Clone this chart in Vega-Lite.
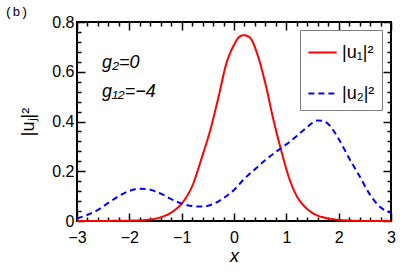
{
  "$schema": "https://vega.github.io/schema/vega-lite/v6.json",
  "autosize": "none",
  "width": 314,
  "height": 199,
  "padding": {"left": 77, "top": 22, "right": 16, "bottom": 52},
  "background": "white",
  "datasets": {
    "curves": [
      {"x": -3.0, "y": 0.000, "s": "|u₁|²"},
      {"x": -2.6, "y": 0.000, "s": "|u₁|²"},
      {"x": -2.2, "y": 0.001, "s": "|u₁|²"},
      {"x": -1.9, "y": 0.002, "s": "|u₁|²"},
      {"x": -1.6, "y": 0.006, "s": "|u₁|²"},
      {"x": -1.4, "y": 0.015, "s": "|u₁|²"},
      {"x": -1.2, "y": 0.034, "s": "|u₁|²"},
      {"x": -1.0, "y": 0.070, "s": "|u₁|²"},
      {"x": -0.8, "y": 0.140, "s": "|u₁|²"},
      {"x": -0.6, "y": 0.265, "s": "|u₁|²"},
      {"x": -0.45, "y": 0.368, "s": "|u₁|²"},
      {"x": -0.3, "y": 0.495, "s": "|u₁|²"},
      {"x": -0.15, "y": 0.630, "s": "|u₁|²"},
      {"x": 0.0, "y": 0.708, "s": "|u₁|²"},
      {"x": 0.1, "y": 0.740, "s": "|u₁|²"},
      {"x": 0.18, "y": 0.747, "s": "|u₁|²"},
      {"x": 0.3, "y": 0.738, "s": "|u₁|²"},
      {"x": 0.45, "y": 0.668, "s": "|u₁|²"},
      {"x": 0.6, "y": 0.552, "s": "|u₁|²"},
      {"x": 0.75, "y": 0.410, "s": "|u₁|²"},
      {"x": 0.9, "y": 0.285, "s": "|u₁|²"},
      {"x": 1.05, "y": 0.175, "s": "|u₁|²"},
      {"x": 1.2, "y": 0.100, "s": "|u₁|²"},
      {"x": 1.35, "y": 0.058, "s": "|u₁|²"},
      {"x": 1.5, "y": 0.032, "s": "|u₁|²"},
      {"x": 1.7, "y": 0.015, "s": "|u₁|²"},
      {"x": 1.9, "y": 0.007, "s": "|u₁|²"},
      {"x": 2.2, "y": 0.002, "s": "|u₁|²"},
      {"x": 2.6, "y": 0.000, "s": "|u₁|²"},
      {"x": 3.0, "y": 0.000, "s": "|u₁|²"},
      {"x": -3.0, "y": 0.010, "s": "|u₂|²"},
      {"x": -2.8, "y": 0.025, "s": "|u₂|²"},
      {"x": -2.6, "y": 0.045, "s": "|u₂|²"},
      {"x": -2.4, "y": 0.073, "s": "|u₂|²"},
      {"x": -2.2, "y": 0.100, "s": "|u₂|²"},
      {"x": -2.0, "y": 0.121, "s": "|u₂|²"},
      {"x": -1.8, "y": 0.130, "s": "|u₂|²"},
      {"x": -1.6, "y": 0.126, "s": "|u₂|²"},
      {"x": -1.4, "y": 0.110, "s": "|u₂|²"},
      {"x": -1.2, "y": 0.088, "s": "|u₂|²"},
      {"x": -1.0, "y": 0.070, "s": "|u₂|²"},
      {"x": -0.8, "y": 0.060, "s": "|u₂|²"},
      {"x": -0.6, "y": 0.058, "s": "|u₂|²"},
      {"x": -0.4, "y": 0.068, "s": "|u₂|²"},
      {"x": -0.2, "y": 0.092, "s": "|u₂|²"},
      {"x": 0.0, "y": 0.125, "s": "|u₂|²"},
      {"x": 0.2, "y": 0.170, "s": "|u₂|²"},
      {"x": 0.4, "y": 0.208, "s": "|u₂|²"},
      {"x": 0.6, "y": 0.245, "s": "|u₂|²"},
      {"x": 0.8, "y": 0.278, "s": "|u₂|²"},
      {"x": 1.0, "y": 0.308, "s": "|u₂|²"},
      {"x": 1.2, "y": 0.342, "s": "|u₂|²"},
      {"x": 1.4, "y": 0.378, "s": "|u₂|²"},
      {"x": 1.6, "y": 0.404, "s": "|u₂|²"},
      {"x": 1.7, "y": 0.402, "s": "|u₂|²"},
      {"x": 1.8, "y": 0.390, "s": "|u₂|²"},
      {"x": 2.0, "y": 0.330, "s": "|u₂|²"},
      {"x": 2.2, "y": 0.252, "s": "|u₂|²"},
      {"x": 2.4, "y": 0.180, "s": "|u₂|²"},
      {"x": 2.6, "y": 0.105, "s": "|u₂|²"},
      {"x": 2.8, "y": 0.055, "s": "|u₂|²"},
      {"x": 3.0, "y": 0.033, "s": "|u₂|²"}
    ],
    "notes": [
      {"x": -2.52, "y": 0.615, "t": "g₂=0"},
      {"x": -2.52, "y": 0.5, "t": "g₁₂=−4"}
    ],
    "panel": [
      {"x": -4.38, "y": 0.825, "t": "(b)"}
    ]
  },
  "layer": [
    {
      "data": {"name": "curves"},
      "mark": {"type": "line", "strokeWidth": 2, "interpolate": "monotone", "clip": false},
      "encoding": {
        "x": {
          "field": "x", "type": "quantitative",
          "scale": {"domain": [-3, 3], "nice": false, "zero": false},
          "axis": {
            "orient": "bottom",
            "values": [-3,-2,-1,0,1,2,3],
            "offset": -8,
            "tickSize": 8,
            "format": "d",
            "labelPadding": 8,
            "title": "x",
            "titleFontStyle": "italic",
            "titlePadding": 2
          }
        },
        "y": {
          "field": "y", "type": "quantitative",
          "scale": {"domain": [0, 0.8], "nice": false},
          "axis": {
            "orient": "left",
            "values": [0,0.2,0.4,0.6,0.8],
            "offset": -8,
            "tickSize": 8,
            "labelExpr": "datum.value == 0 ? '0' : format(datum.value, '.1f')",
            "labelPadding": 3,
            "title": "|uⱼ|²",
            "titlePadding": 14
          }
        },
        "color": {
          "field": "s", "type": "nominal",
          "scale": {"domain": ["|u₁|²", "|u₂|²"], "range": ["#ff0000", "#0000ff"]},
          "legend": {
            "orient": "none", "legendX": 223, "legendY": 8, "title": null,
            "symbolType": "stroke", "symbolSize": 800, "symbolStrokeWidth": 2,
            "labelFontSize": 18, "labelFont": "Liberation Sans", "labelColor": "black",
            "padding": 7, "rowPadding": 16, "labelOffset": 4,
            "strokeColor": "#7f7f7f", "fillColor": "white"
          }
        },
        "strokeDash": {
          "field": "s", "type": "nominal",
          "scale": {"domain": ["|u₁|²", "|u₂|²"], "range": [[1, 0], [6, 4]]},
          "legend": null
        }
      }
    },
    {
      "data": {"name": "notes"},
      "mark": {"type": "text", "align": "left", "baseline": "alphabetic", "fontSize": 18, "font": "Liberation Sans", "fontStyle": "italic", "color": "black"},
      "encoding": {
        "x": {
          "field": "x", "type": "quantitative",
          "axis": {"orient": "top", "values": [-3,-2,-1,0,1,2,3], "offset": -8, "tickSize": 8, "labels": false, "title": null}
        },
        "y": {
          "field": "y", "type": "quantitative",
          "axis": {"orient": "right", "values": [0,0.2,0.4,0.6,0.8], "offset": -8, "tickSize": 8, "labels": false, "title": null}
        },
        "text": {"field": "t", "type": "nominal"}
      }
    },
    {
      "data": {"name": "panel"},
      "mark": {"type": "text", "align": "left", "baseline": "alphabetic", "fontSize": 13, "font": "Liberation Mono", "color": "black", "clip": false},
      "encoding": {
        "x": {
          "field": "x", "type": "quantitative",
          "axis": {"orient": "bottom", "values": [-2.8,-2.6,-2.4,-2.2,-1.8,-1.6,-1.4,-1.2,-0.8,-0.6,-0.4,-0.2,0.2,0.4,0.6,0.8,1.2,1.4,1.6,1.8,2.2,2.4,2.6,2.8], "offset": -4, "tickSize": 4, "labels": false, "title": null}
        },
        "y": {
          "field": "y", "type": "quantitative",
          "axis": {"orient": "left", "values": [0.04,0.08,0.12,0.16,0.24,0.28,0.32,0.36,0.44,0.48,0.52,0.56,0.64,0.68,0.72,0.76], "offset": -4, "tickSize": 4, "labels": false, "title": null}
        },
        "text": {"field": "t", "type": "nominal"}
      }
    },
    {
      "data": {"name": "notes"},
      "mark": {"type": "point", "opacity": 0},
      "encoding": {
        "x": {
          "field": "x", "type": "quantitative",
          "axis": {"orient": "top", "values": [-2.8,-2.6,-2.4,-2.2,-1.8,-1.6,-1.4,-1.2,-0.8,-0.6,-0.4,-0.2,0.2,0.4,0.6,0.8,1.2,1.4,1.6,1.8,2.2,2.4,2.6,2.8], "offset": -4, "tickSize": 4, "labels": false, "title": null}
        },
        "y": {
          "field": "y", "type": "quantitative",
          "axis": {"orient": "right", "values": [0.04,0.08,0.12,0.16,0.24,0.28,0.32,0.36,0.44,0.48,0.52,0.56,0.64,0.68,0.72,0.76], "offset": -4, "tickSize": 4, "labels": false, "title": null}
        }
      }
    }
  ],
  "resolve": {"scale": {"x": "shared", "y": "shared"}, "axis": {"x": "independent", "y": "independent"}},
  "config": {
    "view": {"stroke": "black", "strokeWidth": 2},
    "font": "Liberation Sans",
    "axis": {
      "domain": false,
      "grid": false,
      "ticks": true,
      "tickOpacity": 1,
      "tickCap": "butt",
      "zindex": 1,
      "tickColor": "black",
      "tickWidth": 1.5,
      "labelFont": "Liberation Sans",
      "labelFontSize": 16,
      "labelColor": "black",
      "labelOverlap": false,
      "labelFlush": false,
      "titleFont": "Liberation Sans",
      "titleFontSize": 18,
      "titleFontWeight": "normal",
      "titleColor": "black"
    }
  }
}
